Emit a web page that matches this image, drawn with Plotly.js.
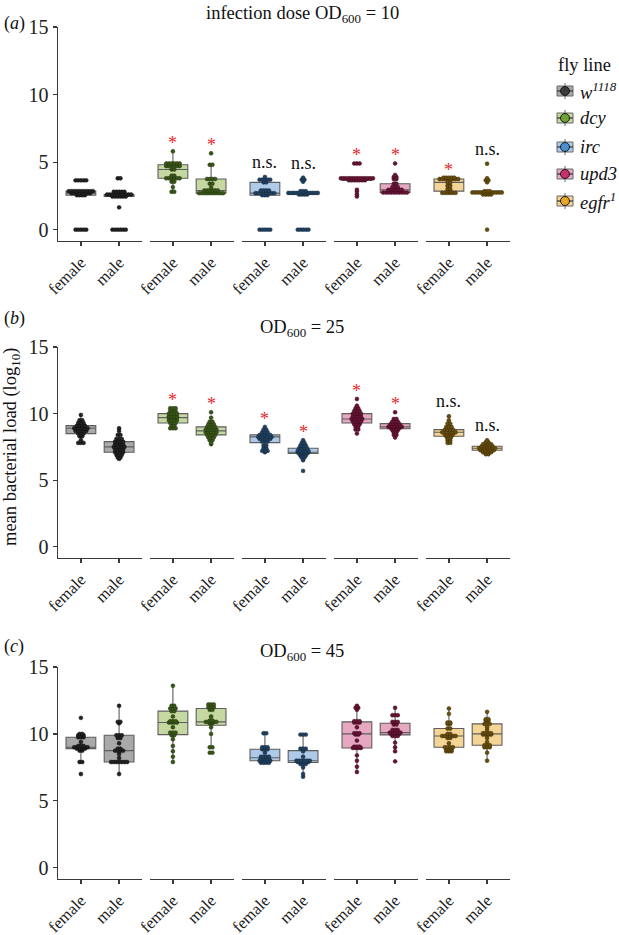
<!DOCTYPE html>
<html><head><meta charset="utf-8">
<script src="https://cdn.plot.ly/plotly-3.0.1.min.js"></script>
<style>body{margin:0;padding:0;background:#fff}#chart{width:619px;height:935px}</style>
</head><body><div id="chart"></div>
<script>
// ---------- categories / labels ----------
const flyLines = ['w1118', 'dcy', 'irc', 'upd3', 'egfr1'];
const flyLineLabels = ['<i>w<sup>1118</sup></i>', '<i>dcy</i>', '<i>irc</i>', '<i>upd3</i>', '<i>egfr<sup>1</sup></i>'];
const sexes = ['female', 'male'];
const panelTags = ['(<i>a</i>)', '(<i>b</i>)', '(<i>c</i>)'];
const panelTitles = ['infection dose OD<sub>600</sub> = 10', 'OD<sub>600</sub> = 25', 'OD<sub>600</sub> = 45'];
const yTicks = [0, 5, 10, 15];
const yTitle = 'mean bacterial load (log<sub>10</sub>)';
const legendTitle = 'fly line';

// ---------- panel (a): OD600 = 10 ----------
const a_w1118_female = [0,0,0,0,0, 2.55,2.55,2.55,2.55, 2.7,2.7,2.7,2.7,2.7,2.7,2.7,2.7, 2.85,2.85,2.85,2.85,2.85,2.85,2.85,2.85,2.85,2.85, 3.65,3.65,3.65,3.65,3.65];
const a_w1118_male = [0,0,0,0,0,0, 1.65, 2.45,2.45,2.45,2.45,2.45,2.45, 2.6,2.6,2.6,2.6,2.6,2.6,2.6,2.6,2.6,2.6, 2.8,2.8,2.8,2.8,2.8, 3.8,3.8];
const a_dcy_female = [2.8,2.8, 3.15, 3.55,3.55, 3.8,3.8,3.8,3.8,3.8,3.8, 4.0,4.0, 4.45,4.45, 4.7,4.7,4.7,4.7,4.7,4.7, 4.9,4.9,4.9,4.9,4.9,4.9, 5.8];
const a_dcy_male = [2.7,2.7,2.7,2.7,2.7,2.7,2.7,2.7,2.7,2.7, 2.9,2.9,2.9,2.9,2.9,2.9, 3.1, 3.4,3.4, 3.75,3.75,3.75,3.75, 4.8,4.8, 5.65];
const a_irc_female = [0,0,0,0,0, 2.55,2.55,2.55, 2.7,2.7,2.7,2.7,2.7,2.7,2.7,2.7, 2.9,2.9,2.9,2.9, 3.5,3.5, 3.7,3.7,3.7,3.7,3.7, 3.9];
const a_irc_male = [0,0,0,0,0, 2.6,2.6,2.6,2.6, 2.72,2.72,2.72,2.72,2.72,2.72,2.72,2.72,2.72,2.72,2.72,2.72, 2.85,2.85,2.85, 3.55, 3.7,3.7, 3.85];
const a_upd3_female = [2.45, 2.6, 2.8, 2.95, 3.65,3.65,3.65,3.65,3.65,3.65,3.65, 3.8,3.8,3.8,3.8,3.8,3.8,3.8,3.8,3.8,3.8,3.8,3.8,3.8, 4.9,4.9,4.9];
const a_upd3_male = [2.75,2.75,2.75,2.75,2.75,2.75,2.75,2.75,2.75,2.75, 2.95,2.95,2.95,2.95,2.95,2.95, 3.15,3.15,3.15, 3.4,3.4, 3.75,3.75, 3.9,3.9, 4.05, 4.9];
const a_egfr1_female = [2.72,2.72,2.72,2.72,2.72,2.72, 2.85,2.85, 3.0,3.0, 3.25,3.25, 3.5,3.5, 3.75,3.75,3.75,3.75,3.75,3.75,3.75,3.75, 3.85,3.85,3.85,3.85,3.85];
const a_egfr1_male = [0, 2.6,2.6,2.6,2.6, 2.75,2.75,2.75,2.75,2.75,2.75,2.75,2.75,2.75,2.75,2.75,2.75, 2.85,2.85,2.85, 3.5, 3.65,3.65, 3.8, 4.88];
const a_sig = ['', '', '*', '*', 'n.s.', 'n.s.', '*', '*', '*', 'n.s.'];

// ---------- panel (b): OD600 = 25 ----------
const b_w1118_female = [7.8,7.8,7.8, 8.0, 8.3,8.3, 8.5,8.5,8.5, 8.7,8.7,8.7,8.7,8.7, 8.9,8.9,8.9,8.9,8.9,8.9, 9.1,9.1,9.1,9.1, 9.3,9.3,9.3, 9.5,9.5, 9.9];
const b_w1118_male = [6.6, 6.7,6.7, 6.9,6.9,6.9, 7.1,7.1,7.1,7.1, 7.3,7.3,7.3,7.3, 7.5,7.5,7.5,7.5,7.5, 7.7,7.7,7.7,7.7, 7.9,7.9,7.9,7.9, 8.1,8.1,8.1, 8.4,8.4, 8.7, 8.9];
const b_dcy_female = [8.9,8.9,8.9, 9.1,9.1, 9.3,9.3,9.3, 9.5,9.5,9.5,9.5, 9.7,9.7,9.7,9.7, 9.8,9.8,9.8,9.8, 10.0,10.0,10.0,10.0, 10.2,10.2,10.2, 10.4,10.4,10.4];
const b_dcy_male = [7.7, 7.8, 8.0,8.0, 8.2,8.2,8.2, 8.4,8.4,8.4,8.4, 8.6,8.6,8.6,8.6,8.6, 8.8,8.8,8.8,8.8,8.8, 9.0,9.0,9.0,9.0, 9.2,9.2,9.2, 9.4,9.4, 9.7, 10.1];
const b_irc_female = [7.1, 7.2,7.2,7.2, 7.4,7.4, 7.6,7.6, 7.9,7.9,7.9, 8.1,8.1,8.1,8.1,8.1, 8.25,8.25,8.25,8.25,8.25,8.25, 8.4,8.4,8.4,8.4,8.4, 8.6,8.6,8.6, 8.8,8.8, 9.0];
const b_irc_male = [5.7, 6.5, 6.7,6.7, 6.85,6.85,6.85, 7.0,7.0,7.0,7.0, 7.1,7.1,7.1,7.1,7.1, 7.2,7.2,7.2,7.2,7.2, 7.4,7.4,7.4,7.4, 7.6,7.6,7.6, 7.8,7.8, 8.0];
const b_upd3_female = [8.5, 8.8,8.8, 9.0,9.0, 9.2,9.2,9.2, 9.4,9.4,9.4,9.4, 9.6,9.6,9.6,9.6,9.6, 9.8,9.8,9.8,9.8, 10.0,10.0,10.0,10.0, 10.2,10.2,10.2, 10.4,10.4, 10.6, 11.1];
const b_upd3_male = [8.2, 8.4,8.4, 8.6,8.6, 8.75,8.75,8.75, 8.9,8.9,8.9,8.9, 9.0,9.0,9.0,9.0,9.0,9.0, 9.1,9.1,9.1,9.1,9.1, 9.25,9.25,9.25,9.25, 9.4,9.4,9.4, 9.6,9.6, 10.1];
const b_egfr1_female = [7.8,7.8, 8.0,8.0, 8.15,8.15, 8.3,8.3,8.3, 8.45,8.45,8.45,8.45, 8.6,8.6,8.6,8.6,8.6,8.6, 8.8,8.8,8.8,8.8, 9.0,9.0,9.0, 9.25,9.25, 9.5, 9.8];
const b_egfr1_male = [6.95,6.95, 7.1,7.1,7.1,7.1, 7.25,7.25,7.25,7.25,7.25,7.25, 7.4,7.4,7.4,7.4,7.4,7.4,7.4, 7.55,7.55,7.55,7.55,7.55, 7.7,7.7,7.7,7.7, 7.85,7.85, 8.0];
const b_sig = ['', '', '*', '*', '*', '*', '*', '*', 'n.s.', 'n.s.'];

// ---------- panel (c): OD600 = 45 ----------
const c_w1118_female = [7.0, 7.9,7.9, 8.75,8.75, 8.9,8.9,8.9,8.9, 9.0,9.0,9.0,9.0,9.0,9.0, 9.1,9.1,9.1, 9.4, 9.75,9.75,9.75, 9.9,9.9,9.9, 10.0,10.0, 11.2];
const c_w1118_male = [7.0, 7.9,7.9,7.9,7.9,7.9,7.9,7.9, 8.2, 8.5, 8.75,8.75,8.75,8.75, 8.9,8.9, 9.3, 9.7,9.7, 9.9,9.9,9.9, 10.8, 10.9,10.9, 12.1];
const c_dcy_female = [7.9, 8.3, 8.7, 9.1, 9.6, 9.9,9.9, 10.1,10.1,10.1, 10.5, 10.85,10.85,10.85,10.85, 10.95,10.95,10.95, 11.3, 11.7,11.7, 11.9,11.9,11.9, 12.1,12.1, 13.6];
const c_dcy_male = [8.6,8.6, 9.0,9.0, 10.0, 10.5, 10.8,10.8, 10.9,10.9,10.9,10.9,10.9, 11.0,11.0, 11.3, 11.8,11.8, 12.0,12.0,12.0, 12.2,12.2,12.2];
const c_irc_female = [7.85,7.85,7.85,7.85, 8.0,8.0,8.0,8.0,8.0, 8.15,8.15,8.15,8.15, 8.3,8.3,8.3,8.3, 8.6, 8.85,8.85,8.85, 9.0,9.0,9.0, 10.05,10.05];
const c_irc_male = [6.8, 7.0, 7.5, 7.75,7.75,7.75, 7.9,7.9,7.9,7.9,7.9, 8.0,8.0,8.0,8.0,8.0,8.0, 8.3, 8.7, 8.9,8.9,8.9, 9.95,9.95,9.95];
const c_upd3_female = [7.15, 7.55, 8.0, 8.4, 8.95,8.95,8.95,8.95, 9.05,9.05,9.05, 9.5, 9.95,9.95, 10.05,10.05,10.05, 10.5, 10.85,10.85,10.85, 10.95,10.95,10.95, 11.8, 11.95,11.95, 12.1];
const c_upd3_male = [7.95, 8.7, 9.0, 9.35, 9.85,9.85,9.85, 10.0,10.0,10.0,10.0, 10.1,10.1,10.1,10.1,10.1, 10.3,10.3,10.3, 10.7,10.7, 10.9,10.9,10.9, 11.4,11.4,11.4, 11.95];
const c_egfr1_female = [8.7,8.7,8.7, 8.85,8.85,8.85, 9.0,9.0,9.0,9.0, 9.3, 9.7,9.7, 9.85,9.85,9.85,9.85,9.85,9.85, 10.0,10.0, 10.4,10.4, 10.75,10.75, 10.85,10.85, 11.5, 11.9];
const c_egfr1_male = [8.0, 8.6, 9.0,9.0,9.0, 9.15,9.15,9.15, 9.4, 9.7, 9.95,9.95,9.95,9.95, 10.05,10.05,10.05,10.05, 10.3, 10.5, 10.75,10.75,10.75, 11.0,11.0, 11.1,11.1, 11.65];
const c_sig = ['', '', '', '', '', '', '', '', '', ''];

// ---------- assemble ----------
const panels = [
  [[a_w1118_female, a_w1118_male], [a_dcy_female, a_dcy_male], [a_irc_female, a_irc_male], [a_upd3_female, a_upd3_male], [a_egfr1_female, a_egfr1_male]],
  [[b_w1118_female, b_w1118_male], [b_dcy_female, b_dcy_male], [b_irc_female, b_irc_male], [b_upd3_female, b_upd3_male], [b_egfr1_female, b_egfr1_male]],
  [[c_w1118_female, c_w1118_male], [c_dcy_female, c_dcy_male], [c_irc_female, c_irc_male], [c_upd3_female, c_upd3_male], [c_egfr1_female, c_egfr1_male]]
];
const sigs = [a_sig, b_sig, c_sig];

// ---------- style ----------
const W = 619, H = 935;
const FONT = '"Liberation Serif", "Times New Roman", serif';
const boxFill = ['#a9a9a9', '#c5d8a1', '#aecae8', '#e6a7c1', '#f4d595'];
const dotFill = ['#222222', '#3a561a', '#22405f', '#661535', '#674d0f'];
const dotLine = ['#0e0e0e', '#23360c', '#132a43', '#420a21', '#3f2f06'];
const keyDot = ['#3b3b3b', '#6ea233', '#4a8fd1', '#cc2f6e', '#e7a624'];
const axisColor = '#3a3a3a';
const px = x => x / W;
const py = y => 1 - y / H;
const facetLeft = 58, facetWidth = 84, facetStep = 92;
const panelTop = [27, 347, 667], panelBottom = [241, 558, 879];
const yRange = [-0.84, 15.0];
const dotSpacing = 0.07;

function dotOffsets(vals, center) {
  const counts = {}, seen = {};
  vals.forEach(v => { counts[v] = (counts[v] || 0) + 1; });
  return vals.map(v => {
    seen[v] = (seen[v] === undefined) ? 0 : seen[v] + 1;
    return center + (seen[v] - (counts[v] - 1) / 2) * dotSpacing;
  });
}

const traces = [];
const layout = {
  width: W, height: H,
  margin: {l: 0, r: 0, t: 0, b: 0},
  paper_bgcolor: '#fff', plot_bgcolor: 'rgba(0,0,0,0)',
  showlegend: false, boxmode: 'overlay',
  font: {family: FONT, size: 18, color: '#111'},
  annotations: [], shapes: []
};

panels.forEach((panel, p) => {
  const yName = p === 0 ? 'yaxis' : 'yaxis' + (p + 1);
  const yRef = p === 0 ? 'y' : 'y' + (p + 1);
  const firstX = 'x' + (p * 5 === 0 ? '' : p * 5 + 1);
  layout[yName] = {
    domain: [py(panelBottom[p]), py(panelTop[p])],
    anchor: firstX, range: yRange, tickvals: yTicks,
    showline: true, linecolor: axisColor, linewidth: 1.4,
    ticks: 'outside', ticklen: 4, tickcolor: axisColor, tickwidth: 1.2,
    showgrid: false, zeroline: false, fixedrange: true,
    tickfont: {family: FONT, size: 20, color: '#222'}
  };
  panel.forEach((group, g) => {
    const n = p * 5 + g + 1;
    const xName = n === 1 ? 'xaxis' : 'xaxis' + n;
    const xRef = n === 1 ? 'x' : 'x' + n;
    const left = facetLeft + g * facetStep;
    layout[xName] = {
      domain: [px(left), px(left + facetWidth)],
      anchor: yRef, range: [0.4, 2.6], tickvals: [1, 2], ticktext: sexes,
      tickangle: -45, showline: true, linecolor: axisColor, linewidth: 1.4,
      ticks: 'outside', ticklen: 4, tickcolor: axisColor, tickwidth: 1.2,
      showgrid: false, zeroline: false, fixedrange: true,
      tickfont: {family: FONT, size: 16.5, color: '#222'}
    };
    group.forEach((vals, s) => {
      const xc = s + 1;
      traces.push({
        type: 'box', xaxis: xRef, yaxis: yRef,
        x: vals.map(() => xc), y: vals, width: 0.78,
        boxpoints: 'outliers', marker: {size: 0.1, color: 'rgba(0,0,0,0)'},
        whiskerwidth: 0, fillcolor: boxFill[g],
        line: {color: '#5e5e5e', width: 1.1},
        hoverinfo: 'skip'
      });
      traces.push({
        type: 'scatter', mode: 'markers', xaxis: xRef, yaxis: yRef,
        x: dotOffsets(vals, xc), y: vals,
        marker: {size: 3.9, color: dotFill[g], line: {color: dotLine[g], width: 0.5}},
        hoverinfo: 'skip', cliponaxis: false
      });
      const sig = sigs[p][g * 2 + s];
      if (sig) {
        const isStar = sig === '*';
        layout.annotations.push({
          xref: xRef, yref: yRef, x: xc, y: Math.max(...vals),
          text: sig, showarrow: false, xanchor: 'center', yanchor: 'middle',
          yshift: isStar ? 8 : 15,
          font: {family: FONT, size: 18, color: isStar ? '#e8262a' : '#111'}
        });
      }
    });
  });
  // panel tag and title
  layout.annotations.push({xref: 'paper', yref: 'paper', x: px(2), y: py([23, 318, 646][p]),
    text: panelTags[p], showarrow: false, xanchor: 'left', yanchor: 'middle',
    font: {family: FONT, size: 18, color: '#111'}});
  layout.annotations.push({xref: 'paper', yref: 'paper', x: px(302), y: py([15, 329, 652][p]),
    text: panelTitles[p], showarrow: false, xanchor: 'center', yanchor: 'middle',
    font: {family: FONT, size: 18.5, color: '#111'}});
});

// y-axis title
layout.annotations.push({xref: 'paper', yref: 'paper', x: px(12), y: py(447),
  text: yTitle, textangle: -90, showarrow: false, xanchor: 'center', yanchor: 'middle',
  font: {family: FONT, size: 18.5, color: '#111'}});

// legend
layout.annotations.push({xref: 'paper', yref: 'paper', x: px(556), y: py(65),
  text: legendTitle, showarrow: false, xanchor: 'left', yanchor: 'middle',
  font: {family: FONT, size: 18.5, color: '#111'}});
const keyY = [91, 118, 147, 174, 201];
flyLines.forEach((fl, i) => {
  const yc = keyY[i], x0 = 557, x1 = 573, xm = 565;
  layout.shapes.push({type: 'line', xref: 'paper', yref: 'paper', x0: px(xm), x1: px(xm), y0: py(yc - 8), y1: py(yc + 8), line: {color: '#6a6a6a', width: 1}});
  layout.shapes.push({type: 'rect', xref: 'paper', yref: 'paper', x0: px(x0), x1: px(x1), y0: py(yc - 5), y1: py(yc + 5), fillcolor: boxFill[i], line: {color: '#6a6a6a', width: 1}});
  layout.shapes.push({type: 'line', xref: 'paper', yref: 'paper', x0: px(x0), x1: px(x1), y0: py(yc), y1: py(yc), line: {color: '#333', width: 1.2}});
  layout.shapes.push({type: 'circle', xref: 'paper', yref: 'paper', x0: px(xm - 4.5), x1: px(xm + 4.5), y0: py(yc - 4.5), y1: py(yc + 4.5), fillcolor: keyDot[i], line: {color: '#1a1a1a', width: 1}});
  layout.annotations.push({xref: 'paper', yref: 'paper', x: px(578), y: py(yc), text: flyLineLabels[i],
    showarrow: false, xanchor: 'left', yanchor: 'middle', font: {family: FONT, size: 18.5, color: '#111'}});
});

Plotly.newPlot('chart', traces, layout, {displayModeBar: false, staticPlot: true});
</script></body></html>
